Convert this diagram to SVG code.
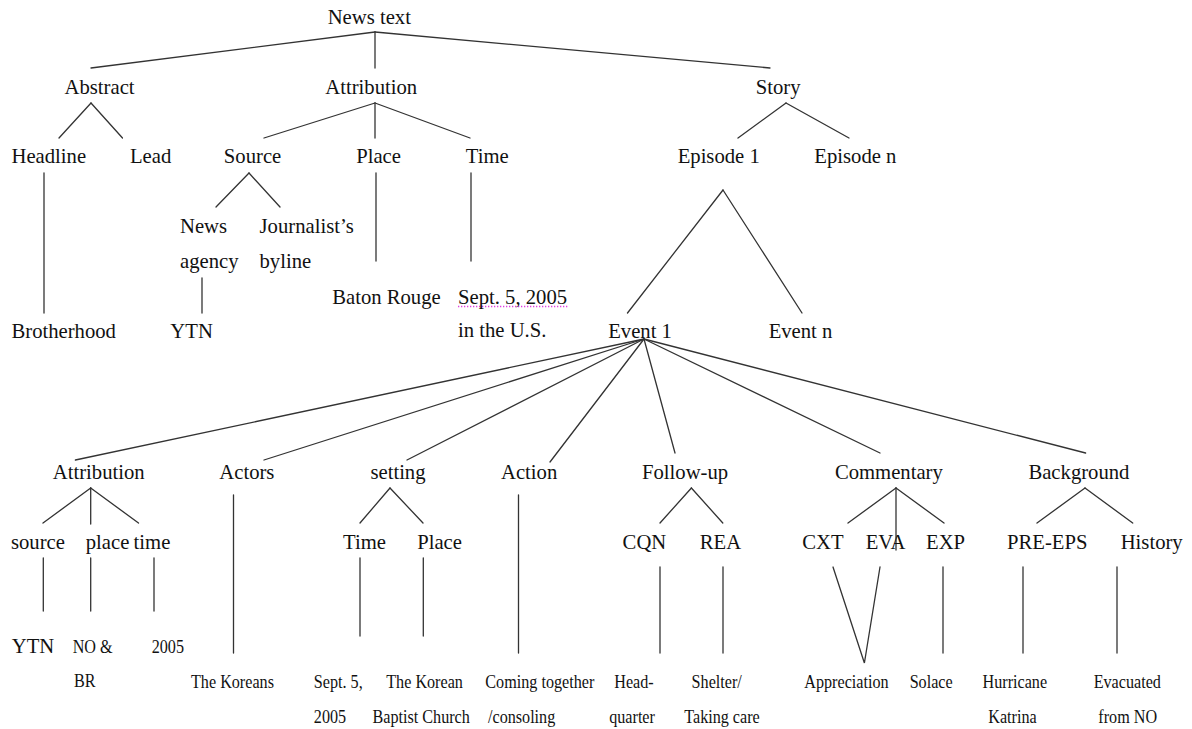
<svg xmlns="http://www.w3.org/2000/svg" width="1192" height="729" viewBox="0 0 1192 729">
<style>
text{font-family:"Liberation Serif","Times New Roman",serif;fill:#111;}
.b text{font-size:22px;}
.s text{font-size:19px;}
.m{text-anchor:middle;}
#edges line,#edges polyline{stroke:#333;stroke-width:1.3;fill:none;stroke-linecap:round;}
</style>
<rect width="1192" height="729" fill="#fff"/>
<g id="edges">
<line x1="375" y1="32" x2="91" y2="68"/>
<line x1="375" y1="32" x2="375" y2="68"/>
<line x1="375" y1="32" x2="770" y2="68"/>
<line x1="91" y1="103" x2="59" y2="138"/>
<line x1="91" y1="103" x2="122.5" y2="138"/>
<line x1="375" y1="103" x2="264" y2="138"/>
<line x1="375" y1="103" x2="375" y2="138"/>
<line x1="375" y1="103" x2="470" y2="138"/>
<line x1="786" y1="103" x2="738" y2="138"/>
<line x1="786" y1="103" x2="849" y2="138"/>
<line x1="44" y1="173" x2="44" y2="313"/>
<line x1="249" y1="173" x2="216" y2="207"/>
<line x1="249" y1="173" x2="280" y2="207"/>
<line x1="376" y1="173" x2="376" y2="261"/>
<line x1="471" y1="173" x2="471" y2="261"/>
<line x1="202" y1="278" x2="202" y2="313"/>
<line x1="723" y1="190" x2="627.5" y2="313"/>
<line x1="723" y1="190" x2="802" y2="313"/>
<line x1="644" y1="339" x2="75.4" y2="460"/>
<line x1="644" y1="339" x2="264" y2="460"/>
<line x1="644" y1="339" x2="407" y2="460"/>
<line x1="644" y1="339" x2="550" y2="462"/>
<line x1="644" y1="339" x2="675" y2="453"/>
<line x1="644" y1="339" x2="880" y2="453"/>
<line x1="644" y1="339" x2="1085.6" y2="453"/>
<line x1="90.7" y1="488" x2="43" y2="523"/>
<line x1="90.7" y1="488" x2="90.7" y2="524"/>
<line x1="90.7" y1="488" x2="138.5" y2="523"/>
<line x1="233.5" y1="495" x2="233.5" y2="653"/>
<line x1="390" y1="488" x2="360" y2="523"/>
<line x1="390" y1="488" x2="423" y2="523"/>
<line x1="518.5" y1="495" x2="518.5" y2="653"/>
<line x1="691.4" y1="488" x2="660" y2="523"/>
<line x1="691.4" y1="488" x2="722.8" y2="523"/>
<line x1="896" y1="488" x2="848" y2="523"/>
<line x1="896" y1="488" x2="896" y2="550"/>
<line x1="896" y1="488" x2="944" y2="523"/>
<line x1="1085" y1="488" x2="1037" y2="523"/>
<line x1="1085" y1="488" x2="1132.7" y2="523"/>
<line x1="43.3" y1="558" x2="43.3" y2="611"/>
<line x1="90.7" y1="558" x2="90.7" y2="611"/>
<line x1="154" y1="558" x2="154" y2="611"/>
<line x1="360" y1="558" x2="360" y2="636"/>
<line x1="423.3" y1="558" x2="423.3" y2="636"/>
<line x1="660" y1="567" x2="660" y2="653"/>
<line x1="723" y1="567" x2="723" y2="653"/>
<polyline points="833,567 864.4,663 880,567"/>
<line x1="943" y1="567" x2="943" y2="653"/>
<line x1="1023" y1="567" x2="1023" y2="653"/>
<line x1="1117" y1="567" x2="1117" y2="653"/>
</g>
<line id="spell-underline" x1="458" y1="306.5" x2="568" y2="306.5" stroke="#e040e0" stroke-width="1.3" stroke-dasharray="1.3 1.7"/>
<g id="n-news-text" class="b" transform="scale(0.94 1)"><text class="m" x="392.9" y="24">News text</text></g>
<g id="n-abstract" class="b" transform="scale(0.94 1)"><text class="m" x="105.9" y="94">Abstract</text></g>
<g id="n-attribution" class="b" transform="scale(0.94 1)"><text class="m" x="394.9" y="94">Attribution</text></g>
<g id="n-story" class="b" transform="scale(0.94 1)"><text class="m" x="827.8" y="94">Story</text></g>
<g id="n-headline" class="b" transform="scale(0.94 1)"><text class="m" x="51.9" y="163">Headline</text></g>
<g id="n-lead" class="b" transform="scale(0.94 1)"><text class="m" x="160.2" y="163">Lead</text></g>
<g id="n-source" class="b" transform="scale(0.94 1)"><text class="m" x="268.7" y="163">Source</text></g>
<g id="n-place" class="b" transform="scale(0.94 1)"><text class="m" x="402.7" y="163">Place</text></g>
<g id="n-time" class="b" transform="scale(0.94 1)"><text class="m" x="518.3" y="163">Time</text></g>
<g id="n-episode-1" class="b" transform="scale(0.94 1)"><text class="m" x="764.6" y="163">Episode 1</text></g>
<g id="n-episode-n" class="b" transform="scale(0.94 1)"><text class="m" x="910.0" y="163">Episode n</text></g>
<g id="n-news-agency" class="b" transform="scale(0.94 1)"><text x="191.5" y="233">News</text><text x="191.5" y="268">agency</text></g>
<g id="n-journalist-byline" class="b" transform="scale(0.94 1)"><text x="276.1" y="233">Journalist’s</text><text x="276.1" y="268">byline</text></g>
<g id="n-baton-rouge" class="b" transform="scale(0.94 1)"><text x="353.4" y="304">Baton Rouge</text></g>
<g id="n-sept-us" class="b" transform="scale(0.94 1)"><text x="487.2" y="304">Sept. 5, 2005</text><text x="487.2" y="337">in the U.S.</text></g>
<g id="n-brotherhood" class="b" transform="scale(0.94 1)"><text x="12.2" y="338">Brotherhood</text></g>
<g id="n-ytn-top" class="b" transform="scale(0.94 1)"><text x="181.2" y="338">YTN</text></g>
<g id="n-event-1" class="b" transform="scale(0.94 1)"><text class="m" x="680.9" y="338">Event 1</text></g>
<g id="n-event-n" class="b" transform="scale(0.94 1)"><text class="m" x="851.6" y="338">Event n</text></g>
<g id="n-attribution-2" class="b" transform="scale(0.94 1)"><text class="m" x="105.0" y="479">Attribution</text></g>
<g id="n-actors" class="b" transform="scale(0.94 1)"><text class="m" x="262.6" y="479">Actors</text></g>
<g id="n-setting" class="b" transform="scale(0.94 1)"><text class="m" x="423.4" y="479">setting</text></g>
<g id="n-action" class="b" transform="scale(0.94 1)"><text class="m" x="562.9" y="479">Action</text></g>
<g id="n-follow-up" class="b" transform="scale(0.94 1)"><text class="m" x="728.8" y="479">Follow-up</text></g>
<g id="n-commentary" class="b" transform="scale(0.94 1)"><text class="m" x="945.6" y="479">Commentary</text></g>
<g id="n-background" class="b" transform="scale(0.94 1)"><text class="m" x="1147.8" y="479">Background</text></g>
<g id="n-source-2" class="b" transform="scale(0.94 1)"><text class="m" x="40.4" y="549">source</text></g>
<g id="n-place-2" class="b" transform="scale(0.94 1)"><text class="m" x="114.4" y="549">place</text></g>
<g id="n-time-2" class="b" transform="scale(0.94 1)"><text class="m" x="161.7" y="549">time</text></g>
<g id="n-time-3" class="b" transform="scale(0.94 1)"><text class="m" x="387.8" y="549">Time</text></g>
<g id="n-place-3" class="b" transform="scale(0.94 1)"><text class="m" x="467.6" y="549">Place</text></g>
<g id="n-cqn" class="b" transform="scale(0.94 1)"><text class="m" x="685.6" y="549">CQN</text></g>
<g id="n-rea" class="b" transform="scale(0.94 1)"><text class="m" x="766.5" y="549">REA</text></g>
<g id="n-cxt" class="b" transform="scale(0.94 1)"><text class="m" x="875.4" y="549">CXT</text></g>
<g id="n-eva" class="b" transform="scale(0.94 1)"><text class="m" x="942.1" y="549">EVA</text></g>
<g id="n-exp" class="b" transform="scale(0.94 1)"><text class="m" x="1005.9" y="549">EXP</text></g>
<g id="n-pre-eps" class="b" transform="scale(0.94 1)"><text class="m" x="1114.1" y="549">PRE-EPS</text></g>
<g id="n-history" class="b" transform="scale(0.94 1)"><text class="m" x="1225.2" y="549">History</text></g>
<g id="n-ytn-low" class="b" transform="scale(0.94 1)"><text class="m" x="35.1" y="653">YTN</text></g>
<g id="n-no-br" class="s" transform="scale(0.85 1)"><text x="85.5" y="653">NO &amp;</text><text x="87.1" y="687">BR</text></g>
<g id="n-2005" class="s" transform="scale(0.85 1)"><text x="178.5" y="653">2005</text></g>
<g id="n-koreans" class="s" transform="scale(0.85 1)"><text class="m" x="273.5" y="688">The Koreans</text></g>
<g id="n-sept-2005" class="s" transform="scale(0.85 1)"><text x="369.2" y="688">Sept. 5,</text><text x="369.2" y="723">2005</text></g>
<g id="n-church" class="s" transform="scale(0.85 1)"><text class="m" x="499.5" y="688">The Korean</text><text class="m" x="495.5" y="723">Baptist Church</text></g>
<g id="n-coming" class="s" transform="scale(0.85 1)"><text x="571.0" y="688">Coming together</text><text x="574.1" y="723">/consoling</text></g>
<g id="n-headquarter" class="s" transform="scale(0.85 1)"><text class="m" x="745.9" y="688">Head-</text><text class="m" x="743.6" y="723">quarter</text></g>
<g id="n-shelter" class="s" transform="scale(0.85 1)"><text class="m" x="843.2" y="688">Shelter/</text><text class="m" x="849.4" y="723">Taking care</text></g>
<g id="n-appreciation" class="s" transform="scale(0.85 1)"><text class="m" x="995.8" y="688">Appreciation</text></g>
<g id="n-solace" class="s" transform="scale(0.85 1)"><text class="m" x="1095.5" y="688">Solace</text></g>
<g id="n-katrina" class="s" transform="scale(0.85 1)"><text class="m" x="1193.9" y="688">Hurricane</text><text class="m" x="1191.2" y="723">Katrina</text></g>
<g id="n-evacuated" class="s" transform="scale(0.85 1)"><text class="m" x="1326.2" y="688">Evacuated</text><text class="m" x="1326.7" y="723">from NO</text></g>
</svg>
